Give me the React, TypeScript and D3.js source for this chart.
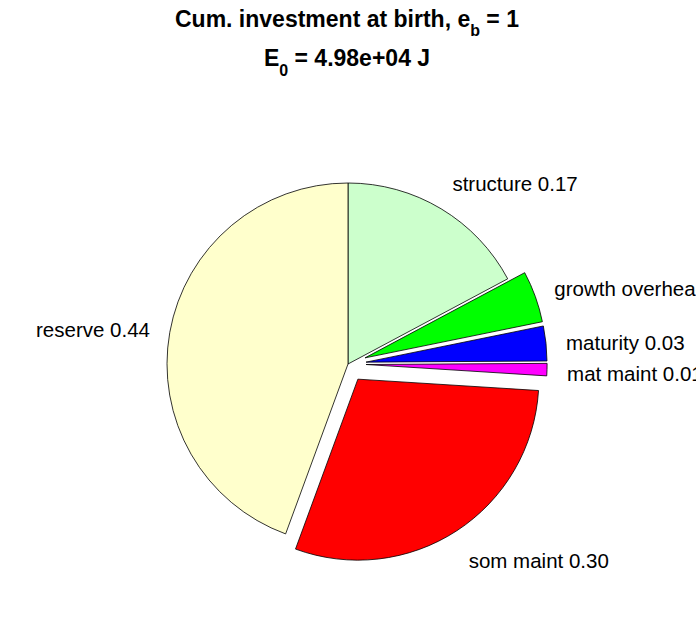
import React from 'react';
import * as d3 from 'd3';

// slices in clockwise order starting at 12 o'clock
const labels = ['structure', 'growth overhead', 'maturity', 'mat maint', 'som maint', 'reserve'];
const fractions = [0.172, 0.046, 0.031, 0.011, 0.296, 0.444];
const exploded = [false, true, true, true, true, false];
const colors = ['#CCFFCC', '#00FF00', '#0000FF', '#FF00FF', '#FF0000', '#FFFFCC'];

const W = 696;
const H = 618;
const cx = 348;
const cy = 364;
const R = 181;
const fs = 20.5;

interface Slice {
  label: string;
  value: number;
  explode: boolean;
  color: string;
}

export default function App() {
  const data: Slice[] = labels.map((l, i) => ({
    label: l,
    value: fractions[i],
    explode: exploded[i],
    color: colors[i],
  }));

  const pie = d3.pie<Slice>().sort(null).value(d => d.value).startAngle(0).endAngle(2 * Math.PI);
  const arc = d3.arc<d3.PieArcDatum<Slice>>().innerRadius(0).outerRadius(R);
  const arcs = pie(data);

  return (
    <svg
      width={W}
      height={H}
      style={{ position: 'absolute', left: 0, top: 0, background: '#fff' }}
      fontFamily="'Liberation Sans', Arial, Helvetica, sans-serif"
    >
      <g fontWeight="bold" fontSize={23} textAnchor="middle">
        <text x={347} y={27}>
          Cum. investment at birth, e
          <tspan fontSize={16} dy={9}>b</tspan>
          <tspan dy={-9}> = 1</tspan>
        </text>
        <text x={347} y={66}>
          E<tspan fontSize={16} dy={10}>0</tspan>
          <tspan dy={-10}> = 4.98e+04 J</tspan>
        </text>
      </g>
      <g transform={`translate(${cx},${cy})`}>
        {arcs.map((a, i) => {
          const mid = (a.startAngle + a.endAngle) / 2;
          const dx = Math.sin(mid);
          const dy = -Math.cos(mid);
          const off = a.data.explode ? 0.1 * R : 0;
          const ox = dx * off;
          const oy = dy * off;
          const lx = ox + dx * 1.1 * R;
          const ly = oy + dy * 1.1 * R + dy * 0.7 * fs + 0.5 * fs;
          return (
            <g key={i}>
              <path
                d={arc(a) || ''}
                transform={`translate(${ox},${oy})`}
                fill={a.data.color}
                stroke="#000"
                strokeWidth={0.8}
                strokeLinejoin="round"
              />
              <text
                x={lx + (dx < 0 ? -2 : 2)}
                y={ly}
                fontSize={fs}
                textAnchor={dx < 0 ? 'end' : 'start'}
                fill="#000"
              >
                {`${a.data.label} ${a.data.value.toFixed(2)}`}
              </text>
            </g>
          );
        })}
      </g>
    </svg>
  );
}
